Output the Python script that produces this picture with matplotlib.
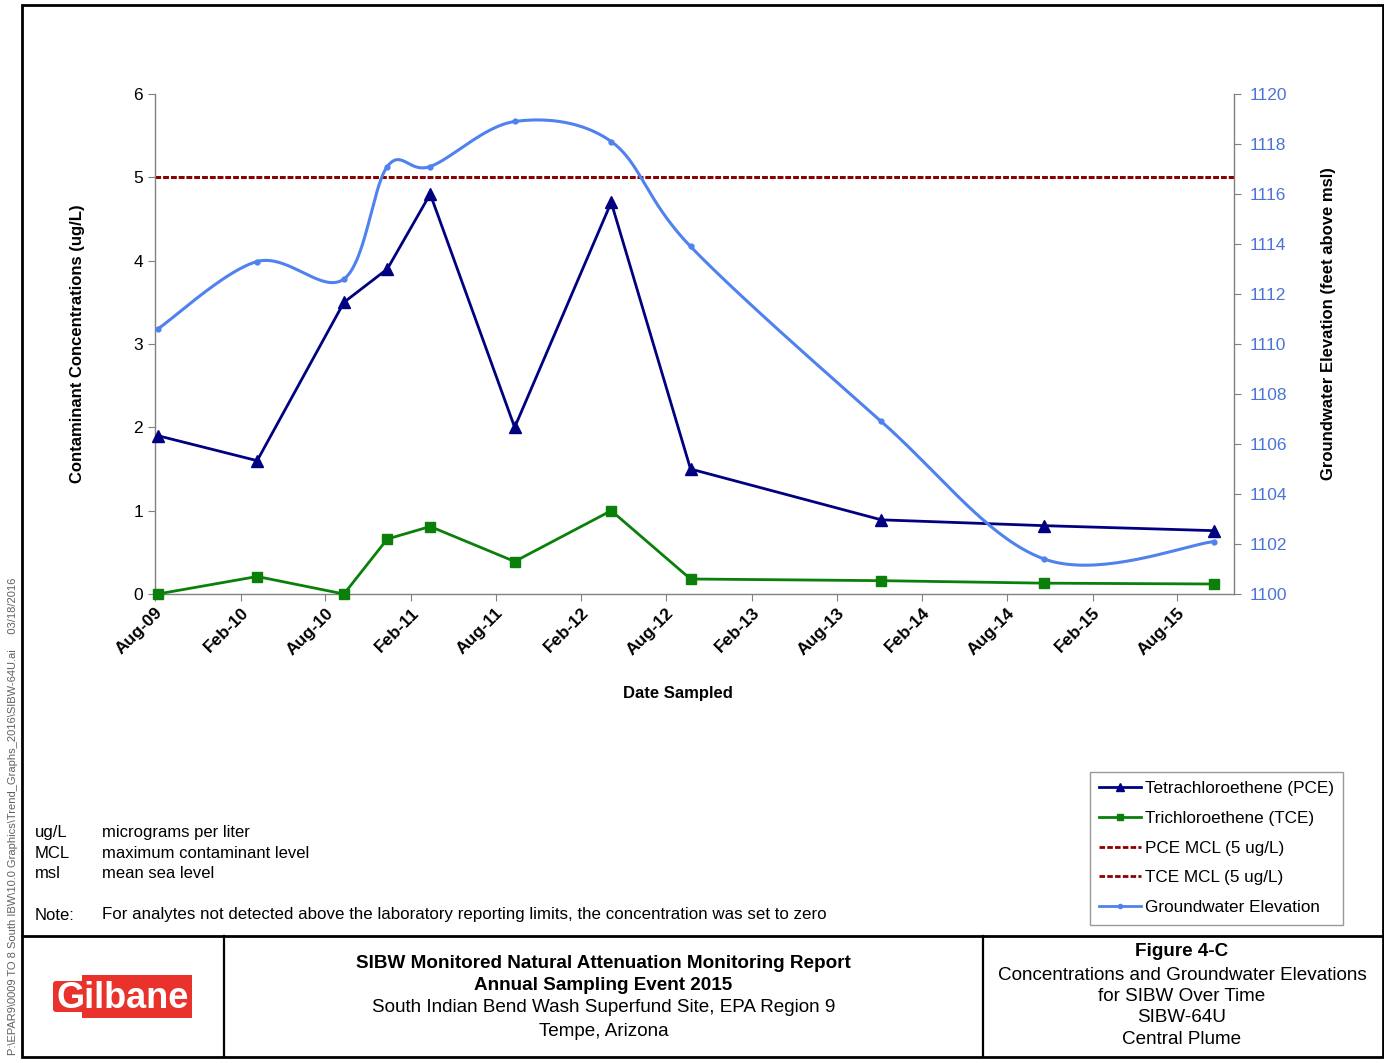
import numpy as np
import pandas as pd
import matplotlib
matplotlib.use("Agg")
import matplotlib.pyplot as plt
import matplotlib.dates as mdates
from matplotlib.lines import Line2D
from matplotlib.patches import Rectangle, FancyBboxPatch

plt.rcParams["font.family"] = ["Liberation Sans", "DejaVu Sans"]

# SIBW-64U sampling results
sample_dates = ["2009-08-07", "2010-03-08", "2010-09-10", "2010-12-12", "2011-03-14",
                "2011-09-11", "2012-04-05", "2012-09-22", "2013-11-05", "2014-10-20",
                "2015-10-20"]
pce = [1.9, 1.6, 3.5, 3.9, 4.8, 2.0, 4.7, 1.5, 0.89, 0.82, 0.76]
tce = [0.0, 0.21, 0.0, 0.66, 0.81, 0.39, 1.0, 0.18, 0.16, 0.13, 0.12]
gw_elev = [1110.6, 1113.3, 1112.6, 1117.1, 1117.1, 1118.9, 1118.1, 1113.9,
           1106.9, 1101.4, 1102.1]
pce_mcl = 5
tce_mcl = 5

x_start, x_end = "2009-08-01", "2015-12-01"

NAVY = "#000080"
GREEN = "#0a800a"
GW_BLUE = "#4f82ee"
TICK_BLUE = "#4a74d6"
MCL_RED = "#8b0000"
GREY = "#808080"

W, H = 1384, 1063


def smooth_curve(x, y, n=40):
    # bezier smoothing through every point (same idea as a spreadsheet "smoothed line")
    pts = np.column_stack([x, y])
    out = []
    for i in range(len(pts) - 1):
        p0 = pts[max(i - 1, 0)]
        p1 = pts[i]
        p2 = pts[i + 1]
        p3 = pts[min(i + 2, len(pts) - 1)]
        c1 = p1 + (p2 - p0) / 6
        c2 = p2 - (p3 - p1) / 6
        t = np.linspace(0, 1, n)[:, None]
        seg = (1 - t) ** 3 * p1 + 3 * (1 - t) ** 2 * t * c1 + 3 * (1 - t) * t ** 2 * c2 + t ** 3 * p2
        out.append(seg if i == 0 else seg[1:])
    out = np.vstack(out)
    return out[:, 0], out[:, 1]


dates = pd.to_datetime(sample_dates)
xnum = mdates.date2num(dates)

fig = plt.figure(figsize=(W / 100, H / 100), dpi=100)

# page frame, title block and notes in pixel coordinates
page = fig.add_axes([0, 0, 1, 1])
page.set_xlim(0, W)
page.set_ylim(H, 0)
page.axis("off")

page.add_patch(Rectangle((22, 5), 1361, 1052, fill=False, lw=2.0, ec="black"))
page.plot([22, 1383], [936, 936], color="black", lw=2.0)
page.plot([224, 224], [936, 1057], color="black", lw=1.6)
page.plot([983, 983], [936, 1057], color="black", lw=1.6)

page.text(13, 1055, r"P:\EPAR9\0009 TO 8 South IBW\10.0 Graphics\Trend_Graphs_2016\SIBW-64U.ai     03/18/2016",
          rotation=90, ha="center", va="bottom", fontsize=8, color="#606060")

abbrevs = [("ug/L", "micrograms per liter"),
           ("MCL", "maximum contaminant level"),
           ("msl", "mean sea level")]
for i, (ab, desc) in enumerate(abbrevs):
    page.text(35, 833 + i * 20.5, ab, fontsize=12, va="center")
    page.text(102, 833 + i * 20.5, desc, fontsize=12, va="center")
page.text(35, 915, "Note:", fontsize=12, va="center")
page.text(102, 915, "For analytes not detected above the laboratory reporting limits, "
          "the concentration was set to zero", fontsize=12.2, va="center")

# Gilbane logo
page.add_patch(Rectangle((82, 975), 110, 43, color="#e8322b", lw=0))
page.add_patch(FancyBboxPatch((56, 984), 32, 25, boxstyle="round,pad=3",
                              color="#e8322b", lw=0))
page.text(123, 998, "Gilbane", fontsize=26, fontweight="bold", color="white",
          ha="center", va="center")

mid = 603.5
page.text(mid, 963, "SIBW Monitored Natural Attenuation Monitoring Report",
          fontsize=13.6, fontweight="bold", ha="center", va="center")
page.text(mid, 986, "Annual Sampling Event 2015", fontsize=13.6, fontweight="bold",
          ha="center", va="center")
page.text(mid, 1008, "South Indian Bend Wash Superfund Site, EPA Region 9",
          fontsize=13.6, ha="center", va="center")
page.text(mid, 1031, "Tempe, Arizona", fontsize=13.6, ha="center", va="center")

rc = 1182
page.text(rc, 952, "Figure 4-C", fontsize=13.6, fontweight="bold", ha="center", va="center")
for i, line in enumerate(["Concentrations and Groundwater Elevations",
                          "for SIBW Over Time", "SIBW-64U", "Central Plume"]):
    page.text(rc, 975 + i * 21.5, line, fontsize=13.6, ha="center", va="center")

# chart
ax = fig.add_axes([155 / W, 1 - 594 / H, (1234 - 155) / W, 500 / H])
ax.patch.set_alpha(0)
ax2 = ax.twinx()

ax.axhline(pce_mcl, color=MCL_RED, lw=2.0, ls=(0, (2.0, 0.8)), zorder=2)
ax.axhline(tce_mcl, color=MCL_RED, lw=2.0, ls=(0, (2.0, 0.8)), zorder=2)
ax.plot(dates, pce, color=NAVY, lw=2.0, marker="^", ms=8, zorder=4, clip_on=False)
ax.plot(dates, tce, color=GREEN, lw=2.0, marker="s", ms=7, zorder=4, clip_on=False)

sx, sy = smooth_curve(xnum, gw_elev)
ax2.plot(mdates.num2date(sx), sy, color=GW_BLUE, lw=2.2, zorder=3)
ax2.plot(dates, gw_elev, ls="none", marker="o", ms=3.5, color=GW_BLUE, zorder=3)

ax.set_xlim(pd.Timestamp(x_start), pd.Timestamp(x_end))
ax.set_ylim(0, 6)
ax2.set_ylim(1100, 1120)
ax.set_yticks(np.arange(0, 7, 1))
ax2.set_yticks(np.arange(1100, 1121, 2))

ax.xaxis.set_major_locator(mdates.MonthLocator(bymonth=[2, 8]))
ax.xaxis.set_major_formatter(mdates.DateFormatter("%b-%y"))
for lbl in ax.get_xticklabels():
    lbl.set_rotation(45)
    lbl.set_ha("right")
    lbl.set_rotation_mode("anchor")
    lbl.set_fontweight("bold")
    lbl.set_fontsize(12)

for a in (ax, ax2):
    a.spines["top"].set_visible(False)
    for s in ("left", "right", "bottom"):
        a.spines[s].set_color(GREY)
        a.spines[s].set_linewidth(1.0)
ax.spines["right"].set_visible(False)
ax2.spines["left"].set_visible(False)
ax2.spines["bottom"].set_visible(False)

ax.tick_params(axis="both", direction="out", length=5, color=GREY, labelsize=12.5)
ax.tick_params(axis="x", pad=3)
ax2.tick_params(axis="y", direction="out", length=5, color=GREY, labelsize=12.5,
                labelcolor=TICK_BLUE, pad=6)

ax.set_ylabel("Contaminant Concentrations (ug/L)", fontsize=12, fontweight="bold")
ax.yaxis.set_label_coords(-0.065, 0.5)
ax2.set_ylabel("Groundwater Elevation (feet above msl)", fontsize=12, fontweight="bold")
ax2.yaxis.set_label_coords(1.081, 0.54)
ax.set_xlabel("Date Sampled", fontsize=12, fontweight="bold")
ax.xaxis.set_label_coords(0.485, -0.184)

handles = [
    Line2D([], [], color=NAVY, lw=2.0, marker="^", ms=6),
    Line2D([], [], color=GREEN, lw=2.0, marker="s", ms=5),
    Line2D([], [], color=MCL_RED, lw=2.0, ls=(0, (2.0, 0.8))),
    Line2D([], [], color=MCL_RED, lw=2.0, ls=(0, (2.0, 0.8))),
    Line2D([], [], color=GW_BLUE, lw=2.0, marker="o", ms=3),
]
labels = ["Tetrachloroethene (PCE)", "Trichloroethene (TCE)", "PCE MCL (5 ug/L)",
          "TCE MCL (5 ug/L)", "Groundwater Elevation"]
leg = page.legend(handles, labels, loc="upper left", bbox_to_anchor=(1090, 772),
                  bbox_transform=page.transData, fontsize=12.3, frameon=True,
                  fancybox=False, edgecolor=GREY, borderpad=0.55, labelspacing=0.86,
                  handlelength=2.45, handletextpad=0.2, borderaxespad=0)
leg.get_frame().set_linewidth(1.0)

fig.savefig("out.png", dpi=100)
